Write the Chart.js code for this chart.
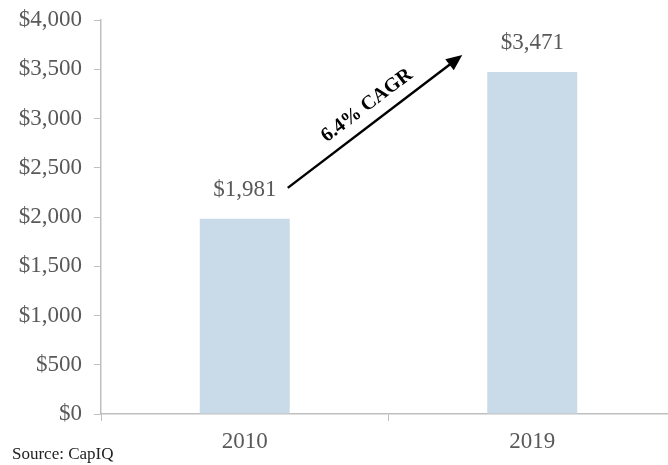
<!DOCTYPE html>
<html>
<head>
<meta charset="utf-8">
<script src="https://cdn.jsdelivr.net/npm/chart.js@4/dist/chart.umd.min.js"></script>
<style>
  html, body { margin: 0; padding: 0; background: #fff; overflow: hidden; }
  #wrap { width: 676px; height: 465px; }
</style>
</head>
<body>
<div id="wrap"><canvas id="revenue"></canvas></div>
<script>
const years = ['2010', '2019'];
const revenue = [1981, 3471];
const cagrLabel = '6.4% CAGR';
const sourceNote = 'Source: CapIQ';

const serif = '"Liberation Serif", "Times New Roman", serif';
const gray = '#595959';
const axisGray = '#bfbfbf';

function money(v){
    return '$' + Number(v).toLocaleString('en-US');
}

// value labels above the bars, the growth arrow and the source line
const annotations = {
    id: 'annotations',
    afterDatasetsDraw(chart){
        const { ctx, scales } = chart;
        const meta = chart.getDatasetMeta(0);

        ctx.save();
        ctx.font = '23px ' + serif;
        ctx.fillStyle = gray;
        ctx.textAlign = 'center';
        ctx.textBaseline = 'middle';
        meta.data.forEach((bar, i) => {
            ctx.fillText(money(revenue[i]), bar.x, bar.y - 29);
        });

        const x0 = scales.x.getPixelForValue(0) + 43;
        const y0 = scales.y.getPixelForValue(revenue[0]) - 31;
        const x1 = scales.x.getPixelForValue(1) - 70;
        const y1 = scales.y.getPixelForValue(revenue[1]) - 17;
        const ang = Math.atan2(y1 - y0, x1 - x0);
        const head = 16;

        ctx.strokeStyle = '#000';
        ctx.fillStyle = '#000';
        ctx.lineWidth = 2.5;
        ctx.beginPath();
        ctx.moveTo(x0, y0);
        ctx.lineTo(x1 - head * 0.8 * Math.cos(ang), y1 - head * 0.8 * Math.sin(ang));
        ctx.stroke();
        ctx.beginPath();
        ctx.moveTo(x1, y1);
        ctx.lineTo(x1 - head * Math.cos(ang) + 7 * Math.sin(ang), y1 - head * Math.sin(ang) - 7 * Math.cos(ang));
        ctx.lineTo(x1 - head * Math.cos(ang) - 7 * Math.sin(ang), y1 - head * Math.sin(ang) + 7 * Math.cos(ang));
        ctx.closePath();
        ctx.fill();

        ctx.translate((x0 + x1) / 2 - 8, (y0 + y1) / 2 - 16);
        ctx.rotate(ang);
        ctx.font = 'bold 20px ' + serif;
        ctx.textAlign = 'center';
        ctx.textBaseline = 'middle';
        ctx.fillText(cagrLabel, 0, 0);
        ctx.restore();

        ctx.save();
        ctx.font = '17px ' + serif;
        ctx.fillStyle = '#222';
        ctx.textAlign = 'left';
        ctx.textBaseline = 'middle';
        ctx.fillText(sourceNote, 12, 455);
        ctx.restore();
    }
};

new Chart(document.getElementById('revenue'), {
    type: 'bar',
    data: {
        labels: years,
        datasets: [{
            data: revenue,
            backgroundColor: '#c9dbe8',
            borderWidth: 0,
            categoryPercentage: 1,
            barPercentage: 0.313
        }]
    },
    options: {
        responsive: true,
        maintainAspectRatio: false,
        animation: false,
        layout: { padding: { top: 20, right: 0, bottom: 0, left: 0 } },
        plugins: {
            legend: { display: false },
            tooltip: { enabled: false }
        },
        scales: {
            x: {
                grid: {
                    drawOnChartArea: false,
                    offset: true,
                    tickLength: 7,
                    color: axisGray
                },
                border: { color: axisGray, width: 1.5 },
                ticks: {
                    color: gray,
                    padding: 7,
                    font: { family: serif, size: 23 }
                },
                afterFit(scale){ scale.height = 51; }
            },
            y: {
                min: 0,
                max: 4000,
                ticks: {
                    stepSize: 500,
                    color: gray,
                    padding: 12,
                    font: { family: serif, size: 23 },
                    callback: v => money(v)
                },
                grid: {
                    drawOnChartArea: false,
                    tickLength: 7,
                    color: axisGray
                },
                border: { color: axisGray, width: 1.5 },
                afterFit(scale){
                    scale.width = 101;
                    scale.paddingTop = 0;
                    scale.paddingBottom = 0;
                }
            }
        }
    },
    plugins: [annotations]
});
</script>
</body>
</html>
